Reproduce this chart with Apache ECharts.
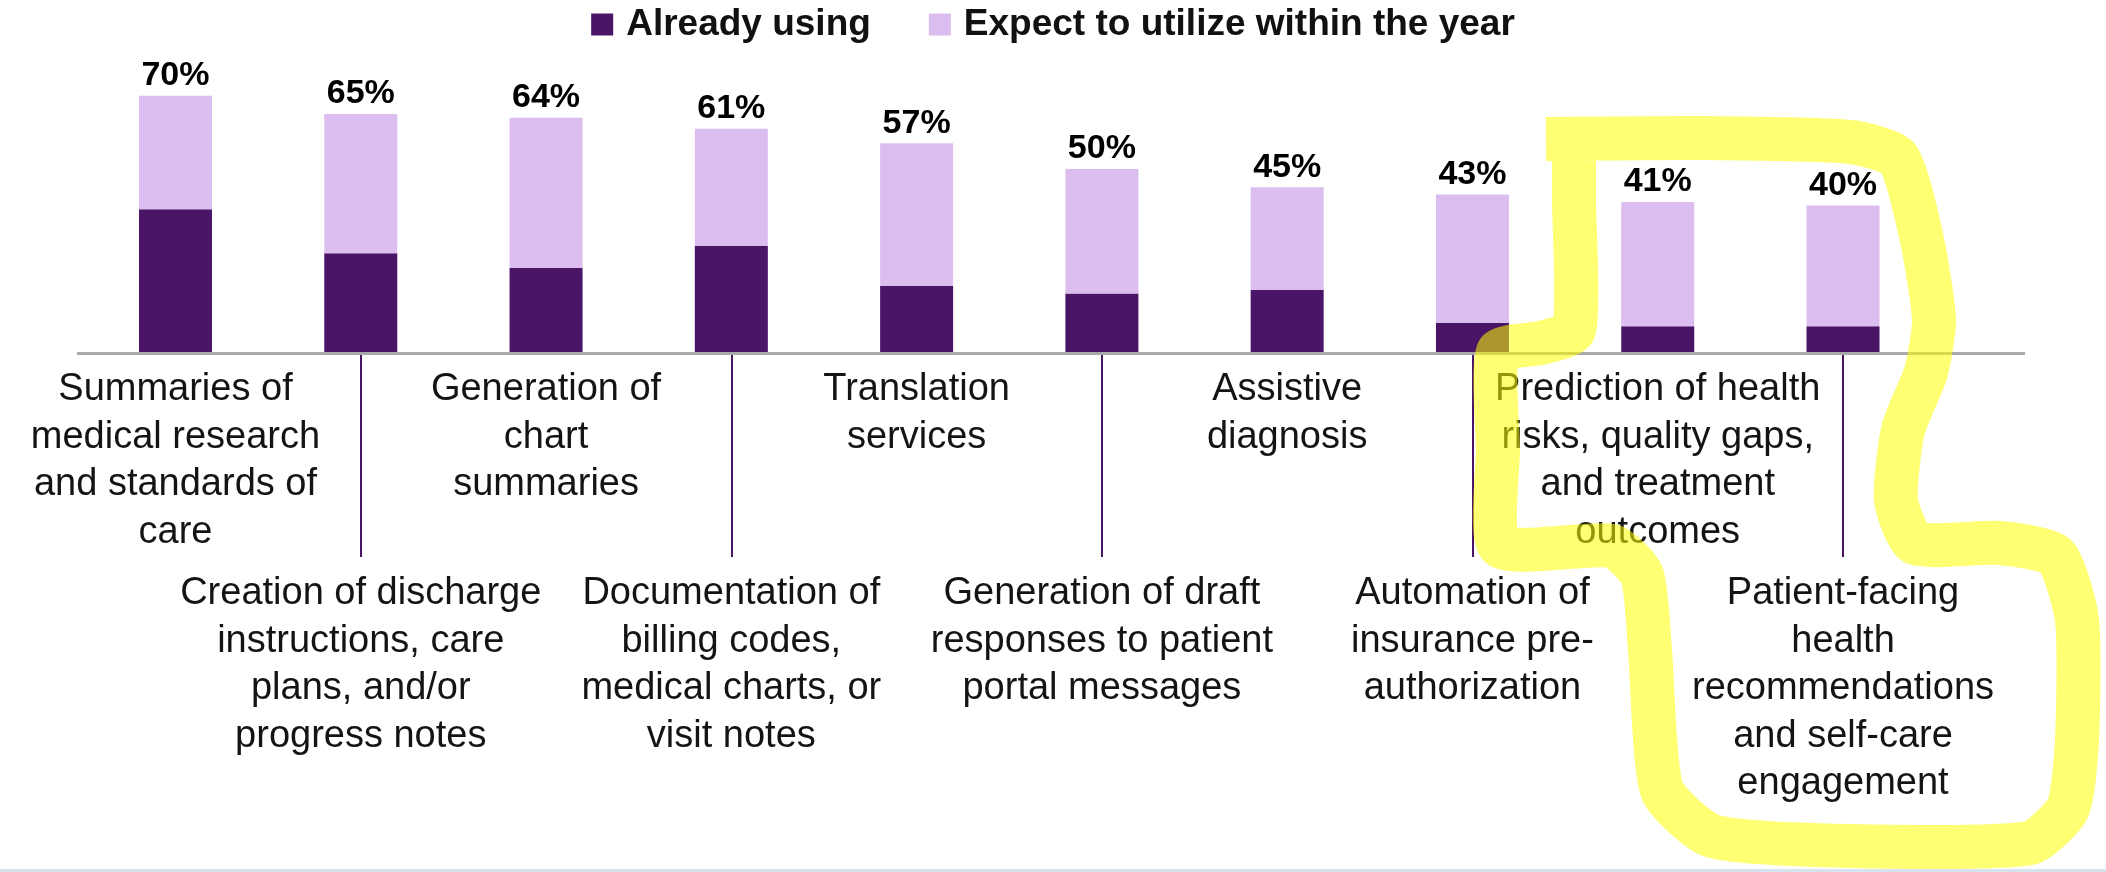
<!DOCTYPE html>
<html>
<head>
<meta charset="utf-8">
<script src="https://cdn.jsdelivr.net/npm/echarts@6/dist/echarts.min.js"></script>
<style>
html,body{margin:0;padding:0;background:#fff;}
#chart{width:2106px;height:872px;}
</style>
</head>
<body>
<div id="chart"></div>
<script>
var categories = [
  "Summaries of\nmedical research\nand standards of\ncare",
  "Creation of discharge\ninstructions, care\nplans, and/or\nprogress notes",
  "Generation of\nchart\nsummaries",
  "Documentation of\nbilling codes,\nmedical charts, or\nvisit notes",
  "Translation\nservices",
  "Generation of draft\nresponses to patient\nportal messages",
  "Assistive\ndiagnosis",
  "Automation of\ninsurance pre-\nauthorization",
  "Prediction of health\nrisks, quality gaps,\nand treatment\noutcomes",
  "Patient-facing\nhealth\nrecommendations\nand self-care\nengagement"
];
var alreadyUsing = [39, 27, 23, 29, 18, 16, 17, 8, 7, 7];
var expectWithinYear = [31, 38, 41, 32, 39, 34, 28, 35, 34, 33];
var totalLabels = [70, 65, 64, 61, 57, 50, 45, 43, 41, 40];

var DARK = '#4a1567';
var LIGHT = '#dbbeef';
var FONT = '"Liberation Sans", Arial, sans-serif';

var chart = echarts.init(document.getElementById('chart'), null, {renderer: 'canvas'});

var option = {
  backgroundColor: '#ffffff',
  animation: false,
  legend: {
    top: 6,
    left: 'center',
    padding: 0,
    itemWidth: 22,
    itemHeight: 22,
    itemGap: 58,
    icon: 'rect',
    textStyle: {
      fontFamily: FONT,
      fontWeight: 'bold',
      fontSize: 37,
      color: '#111',
      padding: [0, 0, 0, 8]
    },
    data: ['Already using', 'Expect to utilize within the year']
  },
  grid: {
    left: 82.85,
    right: 170.35,
    top: 59.1,
    bottom: 520,
    containLabel: false
  },
  xAxis: [
    {
      type: 'category',
      data: categories,
      axisLine: {show: false},
      axisTick: {
        show: true,
        alignWithLabel: true,
        length: 205,
        interval: function (index) { return index % 2 === 1; },
        lineStyle: {color: DARK, width: 2}
      },
      axisLabel: {
        interval: 0,
        margin: 14,
        fontFamily: FONT,
        fontSize: 38,
        lineHeight: 47.5,
        color: '#141414',
        align: 'center',
        formatter: function (v, i) { return i % 2 === 0 ? v : ''; }
      }
    },
    {
      type: 'category',
      data: categories,
      position: 'bottom',
      axisLine: {show: false},
      axisTick: {show: false},
      axisLabel: {
        interval: 0,
        margin: 218,
        fontFamily: FONT,
        fontSize: 38,
        lineHeight: 47.5,
        color: '#141414',
        align: 'center',
        formatter: function (v, i) { return i % 2 === 1 ? v : ''; }
      }
    }
  ],
  yAxis: {
    type: 'value',
    min: 0,
    max: 80,
    show: false,
    splitLine: {show: false}
  },
  series: [
    {
      name: 'Already using',
      type: 'bar',
      stack: 'total',
      barWidth: 73,
      itemStyle: {color: DARK},
      data: alreadyUsing,
      z: 3
    },
    {
      name: 'Expect to utilize within the year',
      type: 'bar',
      stack: 'total',
      barWidth: 73,
      itemStyle: {color: LIGHT},
      data: expectWithinYear,
      z: 3,
      label: {
        show: true,
        position: 'top',
        distance: 3,
        fontFamily: FONT,
        fontWeight: 'bold',
        fontSize: 34,
        color: '#000',
        formatter: function (p) { return totalLabels[p.dataIndex] + '%'; }
      }
    }
  ]
};
chart.setOption(option);

var y0 = chart.convertToPixel({yAxisIndex: 0}, 0);
var highlightPts = [
  [1546, 139], [1700, 138], [1850, 142], [1898, 158], [1922, 240], [1934, 320],
  [1926, 372], [1903, 430], [1896, 500], [1915, 543], [2000, 543], [2056, 556],
  [2077, 620], [2077, 740], [2068, 808], [2030, 843], [1850, 846], [1712, 836],
  [1662, 790], [1650, 650], [1642, 575], [1612, 546], [1500, 546], [1498, 450],
  [1498, 352], [1540, 343], [1574, 330], [1574, 200], [1574, 140]
];
chart.setOption({
  graphic: [
    {
      type: 'line',
      z: 1,
      shape: {x1: 77, y1: y0 + 1.5, x2: 2025, y2: y0 + 1.5},
      style: {stroke: '#a9a9a9', lineWidth: 3}
    },
    {
      type: 'rect',
      z: 1,
      shape: {x: 0, y: 869, width: 2106, height: 3},
      style: {fill: '#d5e4ee'}
    },
    {
      type: 'polyline',
      z: 100,
      shape: {points: highlightPts, smooth: 0.2},
      style: {stroke: 'rgba(255,255,0,0.55)', lineWidth: 44, fill: null, lineJoin: 'round', lineCap: 'butt'}
    }
  ]
});
</script>
</body>
</html>
